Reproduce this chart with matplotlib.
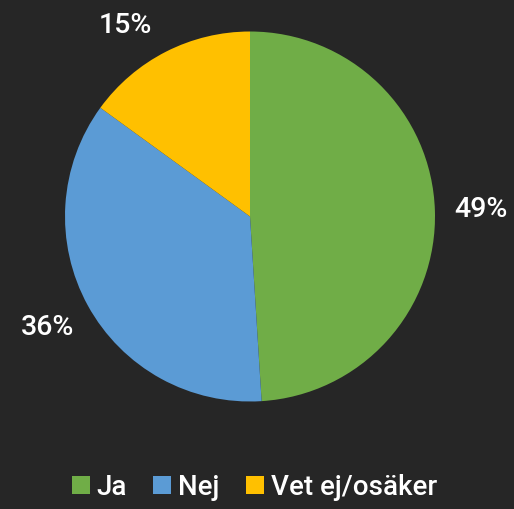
import matplotlib.pyplot as plt

labels = ['Ja', 'Nej', 'Vet ej/osäker']
values = [49, 36, 15]
colors = ['#70AD47', '#5B9BD5', '#FFC000']

plt.rcParams['font.family'] = ['Roboto', 'DejaVu Sans']
bg = '#262626'

W, H = 514, 509
fig = plt.figure(figsize=(W / 100, H / 100), dpi=100, facecolor=bg)
# pie centre at (250, 216) px from top, radius 185 px
cx, cy, r = 250, H - 216.5, 185
ax = fig.add_axes([(cx - r) / W, (cy - r) / H, 2 * r / W, 2 * r / H])
ax.set_facecolor(bg)

wedges, texts, autotexts = ax.pie(values, colors=colors, startangle=90, counterclock=False,
                                  autopct='%.0f%%', pctdistance=1.25,
                                  wedgeprops=dict(linewidth=0),
                                  textprops=dict(color='white', fontsize=20.5, fontweight='medium'))
# excel "best fit" puts the small slice label a bit nearer
autotexts[2].set_position((-0.675, 1.035))
ax.set_xlim(-1, 1)
ax.set_ylim(-1, 1)
ax.set_aspect('equal')
ax.axis('off')

fig.legend(wedges, labels, loc='lower center', bbox_to_anchor=(0.495, 0.005), ncol=3,
           frameon=False, labelcolor='white', borderaxespad=0, borderpad=0.2,
           prop=dict(size=20, weight='medium'),
           handlelength=0.65, handleheight=0.65, handletextpad=0.25, columnspacing=0.95)

fig.savefig('out.png', dpi=100, facecolor=bg)
